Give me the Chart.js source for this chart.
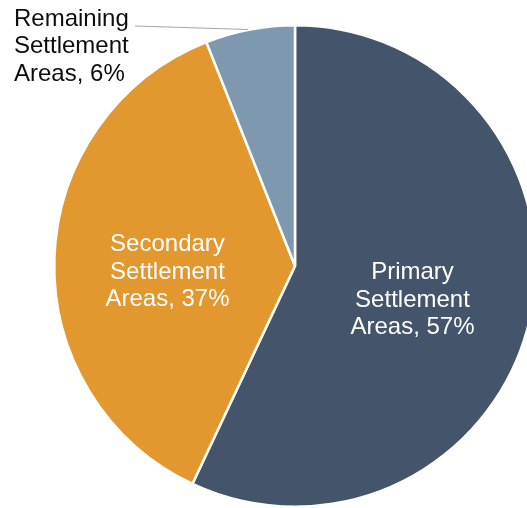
<!DOCTYPE html>
<html>
<head>
<meta charset="utf-8">
<script src="https://cdn.jsdelivr.net/npm/chart.js@4/dist/chart.umd.min.js"></script>
<style>
  html, body { margin: 0; padding: 0; background: #fff; overflow: hidden; }
  #wrap { position: relative; width: 540px; height: 508px; }
</style>
</head>
<body>
<div id="wrap"><canvas id="c"></canvas></div>
<script>
// Share of area by settlement tier
const categories = ['Primary Settlement Areas', 'Secondary Settlement Areas', 'Remaining Settlement Areas'];
const shares = [57, 37, 6];
const labelLines = [
  ['Primary', 'Settlement', 'Areas, 57%'],
  ['Secondary', 'Settlement', 'Areas, 37%'],
  ['Remaining', 'Settlement', 'Areas, 6%']
];
const sliceColors = ['#44546A', '#E3982F', '#7E99AF'];

const FONT = '24px "Liberation Sans", Arial, sans-serif';
const LINE_H = 27.5;

// Draws the slice labels: white text inside the two large slices,
// dark text with a leader line for the small one.
const sliceLabels = {
  id: 'sliceLabels',
  afterDatasetsDraw(chart) {
    const ctx = chart.ctx;
    const meta = chart.getDatasetMeta(0);
    ctx.save();
    ctx.font = FONT;
    ctx.textBaseline = 'middle';
    meta.data.forEach((arc, i) => {
      const { x, y, startAngle, endAngle, outerRadius } = arc.getProps(['x', 'y', 'startAngle', 'endAngle', 'outerRadius'], true);
      const mid = (startAngle + endAngle) / 2;
      const lines = labelLines[i];
      if (i < 2) {
        const f = i === 0 ? 0.5 : 0.53;
        const dy = i === 0 ? 8 : 10;
        const cx = x + Math.cos(mid) * outerRadius * f;
        const cy = y + Math.sin(mid) * outerRadius * f + dy;
        ctx.fillStyle = '#ffffff';
        ctx.textAlign = 'center';
        lines.forEach((t, k) => ctx.fillText(t, cx, cy + (k - 1) * LINE_H));
      } else {
        const ex = x + Math.cos(mid) * outerRadius;
        const ey = y + Math.sin(mid) * outerRadius;
        const lx = 135, ly = 26;
        ctx.strokeStyle = '#A6A6A6';
        ctx.lineWidth = 1;
        ctx.beginPath();
        ctx.moveTo(ex - 2, ey);
        ctx.lineTo(lx, ly);
        ctx.stroke();
        ctx.fillStyle = '#0d0d0d';
        ctx.textAlign = 'left';
        lines.forEach((t, k) => ctx.fillText(t, 14, 19 + k * LINE_H));
      }
    });
    ctx.restore();
  }
};

new Chart(document.getElementById('c'), {
  type: 'pie',
  data: {
    labels: categories,
    datasets: [{
      data: shares,
      backgroundColor: sliceColors,
      borderColor: '#ffffff',
      borderWidth: 2.5
    }]
  },
  options: {
    responsive: true,
    maintainAspectRatio: false,
    animation: false,
    layout: { padding: { left: 53, right: 3, top: 24, bottom: 0 } },
    plugins: {
      legend: { display: false },
      tooltip: { enabled: false }
    }
  },
  plugins: [sliceLabels]
});
</script>
</body>
</html>
